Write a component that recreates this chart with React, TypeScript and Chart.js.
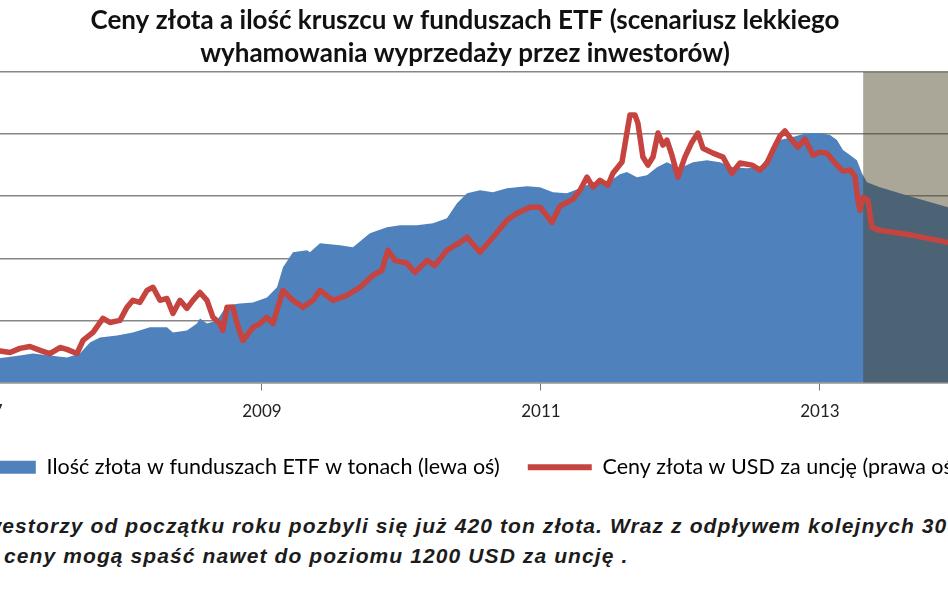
import { useEffect, useRef } from 'react';
import { Chart, registerables } from 'chart.js';

Chart.register(...registerables);

// ---------- text ----------
const titleLines = [
  'Ceny złota a ilość kruszcu w funduszach ETF (scenariusz lekkiego',
  'wyhamowania wyprzedaży przez inwestorów)',
];
const seriesLabels = [
  'Ilość złota w funduszach ETF w tonach (lewa oś)',
  'Ceny złota w USD za uncję (prawa oś)',
];
const captionLines = [
  'Inwestorzy od początku roku pozbyli się już 420 ton złota. Wraz z odpływem kolejnych 300 ton',
  'ceny mogą spaść nawet do poziomu 1200 USD za uncję .',
];

// ---------- axes ----------
const xTickYears = [2007, 2009, 2011, 2013];
const xRange = [2006.692, 2014.004];
const leftAxisTicks = [500, 1000, 1500, 2000, 2500, 3000];
const rightAxisRange = [500, 2000];
const forecastStart = 2013.31;

// ---------- data: ETF gold holdings (tons, left axis) ----------
const etfYears = [
  2007.1, 2007.265, 2007.358, 2007.48, 2007.602, 2007.695, 2007.767, 2007.839, 2007.961, 2008.075,
  2008.197, 2008.319, 2008.362, 2008.462, 2008.534, 2008.556, 2008.606, 2008.677, 2008.749, 2008.842,
  2008.935, 2009.036, 2009.108, 2009.151, 2009.222, 2009.323, 2009.344, 2009.416, 2009.559, 2009.652,
  2009.774, 2009.896, 2009.989, 2010.111, 2010.226, 2010.326, 2010.398, 2010.47, 2010.563, 2010.656,
  2010.756, 2010.9, 2010.993, 2011.086, 2011.186, 2011.28, 2011.373, 2011.473, 2011.566, 2011.616,
  2011.688, 2011.76, 2011.832, 2011.903, 2011.996, 2012.09, 2012.19, 2012.283, 2012.376, 2012.477,
  2012.57, 2012.663, 2012.713, 2012.806, 2012.907, 2013.0, 2013.072, 2013.122, 2013.165, 2013.215,
  2013.265, 2013.301, 2013.337, 2013.43, 2013.667, 2013.918, 2014.004,
];
const etfTons = [
  694, 718, 734, 718, 702, 734, 823, 863, 879, 903,
  944, 944, 903, 919, 976, 1016, 976, 1000, 1121, 1137,
  1145, 1185, 1266, 1427, 1548, 1565, 1548, 1621, 1605, 1589,
  1702, 1750, 1766, 1766, 1782, 1823, 1944, 2024, 2048, 2032,
  2065, 2081, 2073, 2032, 2024, 2065, 2113, 2105, 2177, 2194,
  2153, 2169, 2234, 2274, 2226, 2274, 2290, 2274, 2234, 2226,
  2234, 2371, 2452, 2476, 2508, 2508, 2492, 2452, 2371, 2331,
  2290, 2185, 2113, 2073, 1992, 1911, 1887,
];

// ---------- data: gold price (USD/oz, right axis) ----------
const priceYears = [
  2007.1, 2007.194, 2007.265, 2007.337, 2007.409, 2007.48, 2007.552, 2007.602, 2007.674, 2007.717,
  2007.789, 2007.86, 2007.91, 2007.982, 2008.032, 2008.075, 2008.125, 2008.176, 2008.219, 2008.269,
  2008.319, 2008.362, 2008.412, 2008.462, 2008.505, 2008.556, 2008.606, 2008.649, 2008.699, 2008.72,
  2008.749, 2008.792, 2008.821, 2008.864, 2008.935, 2008.986, 2009.036, 2009.079, 2009.151, 2009.222,
  2009.294, 2009.366, 2009.416, 2009.509, 2009.609, 2009.703, 2009.796, 2009.86, 2009.903, 2009.953,
  2010.039, 2010.097, 2010.183, 2010.24, 2010.326, 2010.419, 2010.47, 2010.563, 2010.656, 2010.756,
  2010.828, 2010.921, 2010.993, 2011.079, 2011.136, 2011.229, 2011.28, 2011.33, 2011.373, 2011.423,
  2011.48, 2011.516, 2011.581, 2011.616, 2011.638, 2011.674, 2011.695, 2011.731, 2011.767, 2011.803,
  2011.839, 2011.875, 2011.903, 2011.939, 2011.982, 2012.032, 2012.082, 2012.125, 2012.161, 2012.233,
  2012.305, 2012.369, 2012.427, 2012.513, 2012.57, 2012.62, 2012.663, 2012.713, 2012.749, 2012.799,
  2012.842, 2012.892, 2012.95, 2013.0, 2013.05, 2013.122, 2013.165, 2013.215, 2013.251, 2013.272,
  2013.287, 2013.308, 2013.344, 2013.373, 2013.43, 2013.667, 2013.918, 2014.004,
];
const priceUsd = [
  655, 645, 665, 674, 655, 640, 669, 660, 640, 703,
  742, 810, 790, 800, 863, 897, 887, 945, 960, 897,
  906, 834, 897, 858, 897, 935, 897, 815, 785, 752,
  863, 863, 785, 703, 766, 785, 815, 785, 945, 897,
  863, 897, 945, 897, 921, 960, 1018, 1042, 1139, 1090,
  1076, 1032, 1090, 1066, 1139, 1177, 1202, 1129, 1202, 1284,
  1318, 1347, 1347, 1274, 1352, 1385, 1429, 1492, 1444, 1477,
  1453, 1511, 1565, 1705, 1792, 1792, 1753, 1589, 1550, 1589,
  1705, 1647, 1671, 1598, 1492, 1589, 1661, 1705, 1632, 1608,
  1589, 1511, 1560, 1550, 1526, 1560, 1623, 1690, 1715, 1671,
  1637, 1676, 1598, 1613, 1608, 1550, 1521, 1526, 1497, 1381,
  1332, 1395, 1381, 1250, 1235, 1211, 1177, 1168,
];

// ---------- styles ----------
const BLUE = '#4f81bd';
const RED = '#c5443f';
const SHADE = 'rgba(74,65,36,0.47)';
const GRID = '#868686';
const FONT = 'Lato, "Open Sans", sans-serif';

// layout of the (cropped) canvas within the 948x593 view
const CANVAS_LEFT = -110;
const CANVAS_W = 1150;
const CANVAS_H = 488;
const PLOT_LEFT = -60;
const PLOT_RIGHT = 960;

export default function App() {
  const ref = useRef<HTMLCanvasElement>(null);

  useEffect(() => {
    const canvas = ref.current;
    if (!canvas) return;

    const shadePlugin = {
      id: 'forecastShade',
      afterDatasetDraw(chart: any, args: any) {
        if (args.index !== 0) return;
        const { ctx, chartArea, scales } = chart;
        const x0 = scales.x.getPixelForValue(forecastStart);
        ctx.save();
        ctx.fillStyle = SHADE;
        ctx.fillRect(x0, chartArea.top, chartArea.right - x0, chartArea.bottom - chartArea.top);
        ctx.restore();
      },
    };

    const chart = new Chart(canvas, {
      type: 'line',
      data: {
        datasets: [
          {
            label: seriesLabels[0],
            data: etfYears.map((x, i) => ({ x, y: etfTons[i] })),
            yAxisID: 'y',
            backgroundColor: BLUE,
            borderColor: 'rgba(0,0,0,0)',
            borderWidth: 0,
            fill: 'start',
            pointRadius: 0,
            tension: 0,
            order: 2,
          },
          {
            label: seriesLabels[1],
            data: priceYears.map((x, i) => ({ x, y: priceUsd[i] })),
            yAxisID: 'y1',
            borderColor: RED,
            backgroundColor: RED,
            borderWidth: 5.5,
            borderJoinStyle: 'round',
            fill: false,
            pointRadius: 0,
            tension: 0,
            order: 1,
          },
        ],
      } as any,
      options: {
        responsive: false,
        maintainAspectRatio: false,
        animation: false,
        events: [],
        layout: { padding: 0 },
        plugins: {
          tooltip: { enabled: false },
          title: {
            display: true,
            text: titleLines,
            color: '#111',
            font: { family: FONT, size: 26, weight: 'bold', lineHeight: '33px' } as any,
            padding: { top: 4, bottom: 2 },
          },
          legend: {
            position: 'bottom',
            labels: {
              usePointStyle: true,
              pointStyleWidth: 64,
              boxHeight: 13,
              padding: 28,
              color: '#111',
              font: { family: FONT, size: 21.5 },
              generateLabels: () => [
                {
                  text: seriesLabels[0],
                  fillStyle: BLUE,
                  strokeStyle: BLUE,
                  lineWidth: 0,
                  pointStyle: 'rect',
                  datasetIndex: 0,
                  hidden: false,
                },
                {
                  text: seriesLabels[1],
                  fillStyle: RED,
                  strokeStyle: RED,
                  lineWidth: 6,
                  pointStyle: 'line',
                  datasetIndex: 1,
                  hidden: false,
                },
              ],
            },
          },
        },
        scales: {
          x: {
            type: 'linear',
            min: xRange[0],
            max: xRange[1],
            afterBuildTicks: (s: any) => {
              s.ticks = xTickYears.map((v) => ({ value: v }));
            },
            afterFit: (s: any) => {
              s.height = 46;
            },
            ticks: {
              autoSkip: false,
              maxRotation: 0,
              padding: 11,
              color: '#222',
              font: { family: FONT, size: 17 },
              callback: (v: any) => String(v),
            },
            grid: { drawOnChartArea: false, drawTicks: true, tickLength: 8, color: '#777', lineWidth: 1 },
            border: { display: true, color: '#9a9a9a', width: 1.5 },
          },
          y: {
            position: 'left',
            min: leftAxisTicks[0],
            max: leftAxisTicks[leftAxisTicks.length - 1],
            afterBuildTicks: (s: any) => {
              s.ticks = leftAxisTicks.map((v) => ({ value: v }));
            },
            afterFit: (s: any) => {
              s.width = PLOT_LEFT - CANVAS_LEFT;
            },
            ticks: { display: false },
            grid: { color: GRID, lineWidth: 1.5, drawTicks: false },
            border: { display: false },
          },
          y1: {
            position: 'right',
            min: rightAxisRange[0],
            max: rightAxisRange[1],
            afterFit: (s: any) => {
              s.width = CANVAS_LEFT + CANVAS_W - PLOT_RIGHT;
            },
            ticks: { display: false },
            grid: { display: false, drawOnChartArea: false },
            border: { display: false },
          },
        },
      } as any,
      plugins: [shadePlugin],
    });

    return () => chart.destroy();
  }, []);

  const captionStyle: any = {
    position: 'absolute',
    whiteSpace: 'pre',
    fontFamily: '"Liberation Sans", Arial, sans-serif',
    fontStyle: 'italic',
    fontWeight: 'bold',
    fontSize: 21,
    lineHeight: '24px',
    letterSpacing: '1.1px',
    color: '#1c1c1c',
  };

  return (
    <div
      style={{
        position: 'absolute',
        left: 0,
        top: 0,
        width: 948,
        height: 593,
        overflow: 'hidden',
        background: '#ffffff',
      }}
    >
      <canvas
        ref={ref}
        width={CANVAS_W}
        height={CANVAS_H}
        style={{ position: 'absolute', left: CANVAS_LEFT, top: 0, width: CANVAS_W, height: CANVAS_H }}
      />
      <div style={{ ...captionStyle, left: -36, top: 514 }}>{captionLines[0]}</div>
      <div style={{ ...captionStyle, left: 4, top: 544 }}>{captionLines[1]}</div>
    </div>
  );
}
